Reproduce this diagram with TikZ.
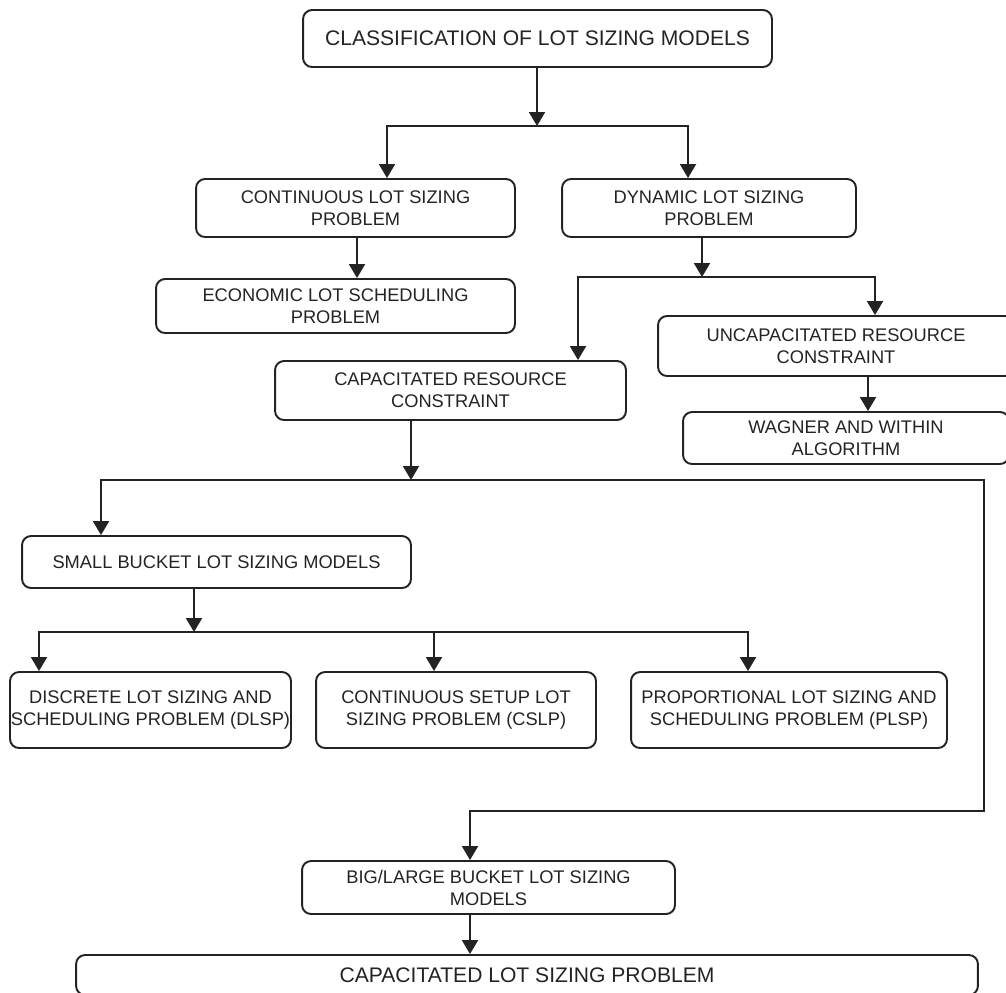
\documentclass[tikz,border=0pt]{standalone}
\usepackage{fontspec}
\setmainfont{Liberation Sans}
\usepackage{tikz}
\usetikzlibrary{arrows.meta, positioning}
\usepackage{xcolor}
\definecolor{ink}{RGB}{35,35,35}

\begin{document}
\begin{tikzpicture}[x=0.02cm,y=-0.02cm,color=ink,line width=1.1pt,>={Triangle[length=0.28cm,width=0.32cm]}]
    \tikzstyle{process}=[shape=rectangle,rounded corners=0.18cm,draw,align=center,inner sep=0pt,font=\fontsize{10.4pt}{12.5pt}\selectfont]
    \tikzstyle{heading}=[process,font=\fontsize{12pt}{14pt}\selectfont]

    \useasboundingbox (0,0) rectangle (1006,992);
    \clip (0,0) rectangle (1006,992);

    \node[heading,minimum width=9.38cm,minimum height=1.14cm] (CLS) at (537.5,38.5) {CLASSIFICATION OF LOT SIZING MODELS};
    \node[process,minimum width=6.38cm,minimum height=1.16cm] (CONT) at (355.5,208) {CONTINUOUS LOT SIZING\\PROBLEM};
    \node[process,minimum width=5.88cm,minimum height=1.16cm] (DYN) at (709,208) {DYNAMIC LOT SIZING\\PROBLEM};
    \node[process,minimum width=7.18cm,minimum height=1.08cm] (ELSP) at (335.5,306) {ECONOMIC LOT SCHEDULING\\PROBLEM};
    \node[process,minimum width=7.12cm,minimum height=1.2cm] (UNCAP) at (836,346) {UNCAPACITATED RESOURCE\\CONSTRAINT};
    \node[process,minimum width=7.02cm,minimum height=1.18cm] (CAP) at (450.5,390.5) {CAPACITATED RESOURCE\\CONSTRAINT};
    \node[process,minimum width=6.52cm,minimum height=1.04cm] (WW) at (846,438) {WAGNER AND WITHIN\\ALGORITHM};
    \node[process,minimum width=7.78cm,minimum height=1.04cm] (SMALL) at (216.5,562) {SMALL BUCKET LOT SIZING MODELS};
    \node[process,minimum width=5.62cm,minimum height=1.52cm] (DLSP) at (150.5,710) {DISCRETE LOT SIZING AND\\SCHEDULING PROBLEM (DLSP)};
    \node[process,minimum width=5.6cm,minimum height=1.52cm] (CSLP) at (456,710) {CONTINUOUS SETUP LOT\\SIZING PROBLEM (CSLP)};
    \node[process,minimum width=6.32cm,minimum height=1.52cm] (PLSP) at (789,710) {PROPORTIONAL LOT SIZING AND\\SCHEDULING PROBLEM (PLSP)};
    \node[process,minimum width=7.46cm,minimum height=1.06cm] (BIG) at (488.5,887.5) {BIG/LARGE BUCKET LOT SIZING\\MODELS};
    \node[heading,minimum width=18.04cm,minimum height=0.8cm] (CLSP) at (527,975) {CAPACITATED LOT SIZING PROBLEM};

    % split points
    \coordinate (s1) at (537,126);
    \coordinate (s2) at (702,277);
    \coordinate (s3) at (411,480);
    \coordinate (s4) at (194,632);
    \coordinate (s5) at (984,811);
    \coordinate (b0) at (357,0);
    \coordinate (b1) at (387,0);
    \coordinate (b2) at (688,0);
    \coordinate (b3) at (578,0);
    \coordinate (b4) at (875,0);
    \coordinate (b5) at (101,0);
    \coordinate (b6) at (868,0);
    \coordinate (b7) at (39,0);
    \coordinate (b8) at (434,0);
    \coordinate (b9) at (748,0);
    \coordinate (b10) at (470,0);

    \draw[->] (CLS.south -| s1) -- (s1);
    \draw[->] (s1) -| (b1 |- CONT.north);
    \draw[->] (s1) -| (b2 |- DYN.north);
    \draw[->] (CONT.south -| b0) -- (b0 |- ELSP.north);

    \draw[->] (DYN.south -| s2) -- (s2);
    \draw[->] (s2) -| (b3 |- CAP.north);
    \draw[->] (s2) -| (b4 |- UNCAP.north);
    \draw[->] (UNCAP.south -| b6) -- (b6 |- WW.north);

    \draw[->] (CAP.south -| s3) -- (s3);
    \draw[->] (s3) -| (b5 |- SMALL.north);
    \draw[->] (s3) -| (s5) -| (b10 |- BIG.north);

    \draw[->] (SMALL.south -| s4) -- (s4);
    \draw[->] (s4) -| (b7 |- DLSP.north);
    \draw[->] (s4) -| (b8 |- CSLP.north);
    \draw[->] (s4) -| (b9 |- PLSP.north);

    \draw[->] (BIG.south -| b10) -- (b10 |- CLSP.north);
\end{tikzpicture}
\end{document}
